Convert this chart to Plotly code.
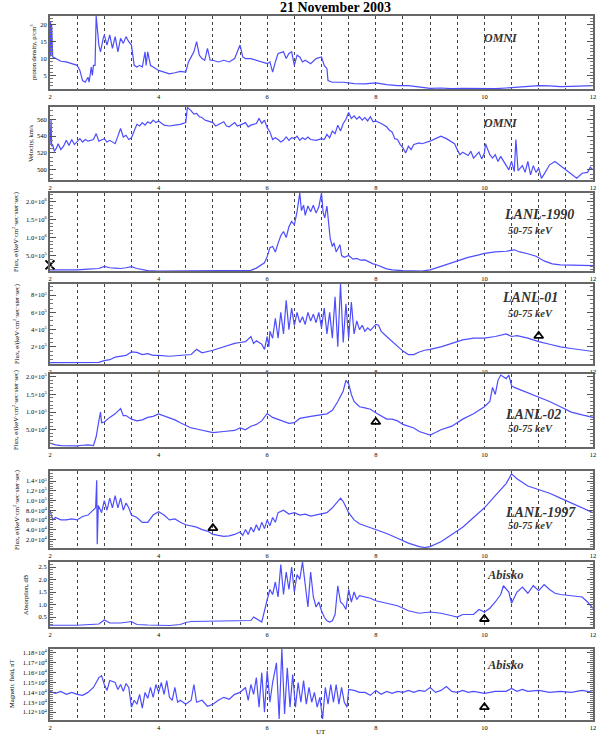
import plotly.graph_objects as go

# ---------------- data ----------------
# Panel 1: OMNI proton density, p/cm^3
t_dens = [2.0, 2.01, 2.02, 2.03, 2.05, 2.1, 2.15, 2.2, 2.3, 2.4, 2.5, 2.55, 2.6, 2.65, 2.7, 2.72, 2.76, 2.78,
          2.8, 2.83, 2.85, 2.9, 2.93, 2.98, 3.0, 3.05, 3.1, 3.15, 3.2, 3.25, 3.3, 3.35, 3.4, 3.45, 3.5, 3.55,
          3.6, 3.65, 3.7, 3.75, 3.77, 3.8, 3.85, 3.9, 4.0, 4.1, 4.2, 4.3, 4.4, 4.5, 4.55, 4.6, 4.65, 4.7,
          4.75, 4.8, 4.85, 4.9, 4.95, 5.0, 5.1, 5.2, 5.3, 5.4, 5.5, 5.55, 5.6, 5.7, 5.8, 5.9, 6.0, 6.05,
          6.1, 6.15, 6.2, 6.3, 6.35, 6.4, 6.45, 6.5, 6.55, 6.6, 6.65, 6.7, 6.8, 6.9, 7.0, 7.05, 7.1, 7.12,
          7.2, 7.4, 7.6, 7.8, 8.0, 8.2, 8.4, 8.6, 8.8, 9.0, 9.2, 9.4, 9.6, 9.8, 10.0, 10.2, 10.4, 10.6,
          10.8, 11.0, 11.2, 11.4, 11.6, 11.8, 12.0]
dens = [10.5, 21.0, 11.0, 20.0, 10.5, 10.0, 9.5, 9.2, 9.0, 8.6, 8.0, 6.5, 3.5, 3.0, 4.5, 3.0, 7.5, 5.0,
        8.0, 8.0, 22.6, 14.0, 12.0, 16.0, 17.0, 14.0, 17.0, 13.0, 16.5, 12.0, 16.0, 14.5, 16.5, 15.0, 14.0, 8.0,
        7.5, 8.0, 7.5, 12.0, 8.0, 12.0, 8.0, 7.5, 6.5, 6.0, 5.5, 5.8, 6.2, 6.0, 9.0, 10.5, 12.0, 15.0,
        11.0, 10.0, 9.5, 13.0, 9.5, 9.5, 9.0, 9.5, 9.0, 10.0, 14.0, 10.5, 10.0, 10.0, 9.5, 9.0, 8.5, 9.0,
        6.0, 9.0, 11.5, 12.0, 10.0, 11.5, 12.0, 8.0, 11.0, 10.5, 9.0, 9.5, 8.5, 10.0, 10.5, 8.0, 7.0, 3.5,
        3.0, 3.0, 2.6, 2.5, 2.8, 2.3, 2.0, 2.0, 1.5, 1.2, 1.3, 1.1, 1.2, 1.1, 1.2, 1.1, 1.3, 1.5,
        1.8, 2.0, 1.9, 1.7, 1.8, 1.9, 2.0]

# Panel 2: OMNI velocity, km/s
t_vel = [2.0, 2.01, 2.02, 2.03, 2.05, 2.08, 2.12, 2.15, 2.2, 2.25, 2.3, 2.35, 2.4, 2.45, 2.5, 2.55, 2.6,
         2.65, 2.7, 2.8, 2.85, 2.9, 3.0, 3.05, 3.1, 3.2, 3.25, 3.3, 3.35, 3.4, 3.45, 3.5, 3.55, 3.6, 3.65,
         3.7, 3.75, 3.8, 3.85, 3.9, 3.95, 4.0, 4.1, 4.2, 4.3, 4.4, 4.5, 4.53, 4.6, 4.65, 4.7, 4.75, 4.8,
         4.85, 4.9, 5.0, 5.05, 5.1, 5.2, 5.25, 5.3, 5.4, 5.45, 5.5, 5.6, 5.65, 5.7, 5.8, 5.85, 5.9, 5.95,
         6.0, 6.05, 6.1, 6.15, 6.2, 6.25, 6.3, 6.35, 6.4, 6.45, 6.5, 6.55, 6.6, 6.65, 6.7, 6.75, 6.8, 6.9,
         7.0, 7.05, 7.1, 7.15, 7.2, 7.25, 7.3, 7.35, 7.4, 7.45, 7.5, 7.55, 7.6, 7.65, 7.7, 7.75, 7.8, 7.85,
         7.9, 7.95, 8.0, 8.1, 8.2, 8.25, 8.3, 8.35, 8.4, 8.45, 8.5, 8.55, 8.6, 8.65, 8.7, 8.8, 8.85, 9.0,
         9.1, 9.2, 9.3, 9.45, 9.5, 9.55, 9.6, 9.7, 9.75, 9.8, 9.9, 9.95, 10.0, 10.02, 10.1, 10.15, 10.2,
         10.25, 10.3, 10.4, 10.45, 10.5, 10.55, 10.58, 10.62, 10.7, 10.75, 10.8, 10.85, 10.9, 10.95, 11.0,
         11.05, 11.1, 11.2, 11.3, 11.4, 11.5, 11.6, 11.7, 11.8, 11.9, 11.95, 12.0]
vel = [530, 545, 560, 528, 530, 522, 526, 531, 524, 528, 535, 529, 536, 530, 533, 537, 533,
       536, 534, 536, 543, 534, 537, 533, 535, 531, 540, 549, 539, 541, 536, 538, 546, 554, 552,
       556, 553, 557, 555, 559, 556, 558, 553, 552, 553, 554, 556, 574, 570, 566, 567, 563, 562,
       559, 558, 556, 552, 554, 557, 552, 551, 556, 552, 553, 556, 551, 553, 555, 561, 555, 559,
       550, 545, 536, 538, 536, 533, 535, 539, 535, 538, 537, 540, 535, 538, 536, 539, 536, 535,
       537, 536, 542, 538, 546, 543, 553, 546, 555, 560, 568, 561, 564, 560, 563, 559, 562, 558,
       563, 557, 558, 555, 551, 547, 545, 537, 536, 530, 526, 520, 528, 524, 530, 532, 531, 534,
       537, 540, 537, 531, 524, 518, 521, 517, 522, 514, 521, 513, 520, 531, 518, 514, 518,
       510, 516, 505, 500, 510, 498, 536, 499, 505, 497, 510, 494, 505, 497, 502,
       490, 495, 506, 510, 505, 500, 494, 490, 496, 497, 503, 500]

# Panel 3: LANL-1990 flux, units of 1e6
t_l90 = [2.0, 2.1, 2.3, 2.5, 2.7, 2.9, 3.0, 3.1, 3.2, 3.3, 3.4, 3.5, 3.6, 3.7, 3.8, 4.0, 4.5, 5.0, 5.5,
         5.7, 5.8, 5.9, 5.95, 6.0, 6.05, 6.1, 6.15, 6.2, 6.25, 6.3, 6.35, 6.4, 6.45, 6.5, 6.55, 6.6, 6.63,
         6.67, 6.7, 6.75, 6.8, 6.85, 6.9, 6.95, 7.0, 7.03, 7.06, 7.1, 7.13, 7.16, 7.2, 7.23, 7.27, 7.3,
         7.34, 7.37, 7.42, 7.5, 7.58, 7.65, 7.72, 7.8, 7.86, 7.95, 8.0, 8.1, 8.2, 8.3, 8.5, 8.85, 9.0,
         9.2, 9.4, 9.5, 9.7, 9.9, 10.0, 10.2, 10.4, 10.55, 10.65, 10.8, 10.95, 11.1, 11.25, 11.4, 11.6,
         11.8, 12.0]
l90 = [0.10, 0.10, 0.09, 0.10, 0.12, 0.14, 0.20, 0.16, 0.15, 0.14, 0.16, 0.19, 0.14, 0.10, 0.08, 0.07,
       0.07, 0.08, 0.07, 0.09, 0.15, 0.24, 0.30, 0.47, 0.72, 0.75, 0.60, 0.84, 1.05, 1.17, 1.00, 1.30,
       1.45, 1.35, 1.72, 2.24, 1.75, 1.90, 1.62, 1.88, 1.72, 1.90, 1.68, 1.85, 2.24, 1.70, 1.55, 1.88,
       1.40, 0.98, 0.75, 0.85, 0.60, 0.70, 0.80, 0.50, 0.45, 0.50, 0.40, 0.42, 0.37, 0.38, 0.33, 0.27,
       0.25, 0.18, 0.13, 0.10, 0.08, 0.07, 0.10, 0.20, 0.30, 0.35, 0.45, 0.52, 0.56, 0.60, 0.62, 0.66,
       0.60, 0.55, 0.48, 0.35, 0.27, 0.24, 0.23, 0.22, 0.22]

# Panel 4: LANL-01 flux, units of 1e5
t_l01 = [2.0, 2.5, 2.9, 3.0, 3.1, 3.2, 3.3, 3.4, 3.5, 3.6, 3.7, 3.8, 3.9, 4.0, 4.2, 4.4, 4.6, 4.7, 4.8,
         5.0, 5.2, 5.4, 5.5, 5.6, 5.7, 5.75, 5.8, 5.9, 5.95, 6.0, 6.03, 6.05, 6.1, 6.15, 6.2, 6.25, 6.3,
         6.35, 6.4, 6.45, 6.5, 6.55, 6.6, 6.65, 6.7, 6.75, 6.8, 6.85, 6.9, 6.95, 7.0, 7.05, 7.1, 7.15,
         7.2, 7.25, 7.3, 7.35, 7.4, 7.45, 7.5, 7.55, 7.6, 7.65, 7.7, 7.75, 7.8, 7.85, 7.9, 8.0, 8.05,
         8.1, 8.2, 8.3, 8.4, 8.5, 8.6, 8.7, 8.8, 8.9, 9.0, 9.2, 9.4, 9.6, 9.8, 10.0, 10.2, 10.4, 10.5,
         10.6, 10.8, 11.0, 11.2, 11.4, 11.6, 11.8, 12.0]
l01 = [0.15, 0.15, 0.2, 0.4, 0.5, 0.8, 0.9, 1.0, 1.4, 1.35, 1.1, 1.2, 1.0, 1.0, 0.9, 1.0, 1.1, 1.7, 1.3,
       1.6, 2.0, 2.4, 2.5, 2.6, 3.2, 2.4, 2.7, 2.3, 1.7, 3.2, 2.0, 3.8, 3.0, 5.3, 3.0, 6.0, 3.5,
       7.4, 4.0, 6.5, 4.5, 6.0, 4.8, 5.5, 4.6, 6.0, 5.0, 5.8, 4.8, 6.0, 4.2, 6.5, 3.5, 6.0,
       3.0, 7.8, 2.0, 9.3, 2.5, 7.0, 3.0, 7.2, 3.5, 5.0, 4.0, 4.5, 3.8, 4.2, 3.9, 4.6, 4.5,
       3.8, 3.2, 2.6, 2.1, 1.5, 1.1, 1.1, 1.4, 1.6, 1.7, 2.0, 2.4, 2.8, 3.0, 3.0, 3.2, 3.5, 3.2,
       3.3, 3.0, 2.6, 2.3, 2.0, 1.8, 1.6, 1.45]

# Panel 5: LANL-02 flux, units of 1e5
t_l02 = [2.0, 2.1, 2.2, 2.5, 2.6, 2.7, 2.8, 2.85, 2.9, 2.93, 2.95, 3.0, 3.1, 3.2, 3.3, 3.35, 3.4, 3.5, 3.6,
         3.7, 3.8, 3.9, 4.0, 4.1, 4.2, 4.3, 4.4, 4.5, 4.6, 4.7, 4.8, 4.9, 5.0, 5.2, 5.4, 5.5, 5.6, 5.7,
         5.8, 5.9, 6.0, 6.1, 6.2, 6.3, 6.4, 6.5, 6.6, 6.8, 7.0, 7.1, 7.2, 7.3, 7.4, 7.45, 7.5, 7.55,
         7.6, 7.7, 7.8, 7.9, 8.0, 8.1, 8.2, 8.3, 8.4, 8.5, 8.6, 8.7, 8.8, 8.9, 9.0, 9.1, 9.2, 9.4, 9.6,
         9.8, 10.0, 10.1, 10.15, 10.2, 10.25, 10.3, 10.35, 10.4, 10.45, 10.5, 10.55, 10.6, 10.8, 11.0,
         11.2, 11.4, 11.6, 11.8, 12.0]
l02 = [0.12, 0.07, 0.05, 0.04, 0.06, 0.07, 0.05, 0.3, 0.75, 1.0, 0.7, 0.72, 0.85, 0.95, 1.1, 0.9, 0.9,
       0.8, 0.75, 0.78, 0.85, 0.88, 0.95, 0.9, 0.85, 0.78, 0.7, 0.62, 0.55, 0.52, 0.48, 0.44, 0.42, 0.45,
       0.48, 0.55, 0.5, 0.6, 0.65, 0.75, 0.96, 0.85, 0.8, 0.75, 0.68, 0.7, 0.82, 0.88, 0.92, 0.95,
       1.05, 1.3, 1.6, 1.9, 1.8, 1.5, 1.3, 1.15, 1.12, 1.08, 0.98, 0.88, 0.8, 0.8, 0.75, 0.65, 0.6,
       0.55, 0.45, 0.4, 0.35, 0.42, 0.5, 0.6, 0.8, 0.95, 1.15, 1.3, 1.7, 1.5, 1.9, 2.05, 2.0, 1.95,
       2.05, 1.75, 1.7, 1.67, 1.55, 1.42, 1.3, 1.15, 1.0, 0.92, 0.85]

# Panel 6: LANL-1997 flux, units of 1e5
t_l97 = [2.0, 2.05, 2.1, 2.2, 2.3, 2.4, 2.5, 2.6, 2.7, 2.8, 2.84, 2.86, 2.87, 2.89, 2.95, 3.0, 3.05, 3.1,
         3.15, 3.2, 3.25, 3.3, 3.35, 3.4, 3.45, 3.5, 3.6, 3.7, 3.8, 3.9, 4.0, 4.1, 4.2, 4.3, 4.4, 4.5,
         4.6, 4.7, 4.8, 4.9, 5.0, 5.1, 5.2, 5.3, 5.4, 5.5, 5.55, 5.6, 5.65, 5.7, 5.75, 5.8, 5.85, 5.9,
         5.95, 6.0, 6.05, 6.1, 6.15, 6.2, 6.3, 6.4, 6.5, 6.6, 6.7, 6.8, 6.9, 7.0, 7.1, 7.2, 7.3, 7.35,
         7.4, 7.5, 7.6, 7.7, 7.8, 8.0, 8.2, 8.4, 8.6, 8.8, 8.9, 9.0, 9.2, 9.4, 9.6, 9.8, 10.0, 10.2,
         10.4, 10.5, 10.6, 10.8, 11.0, 11.2, 11.4, 11.6, 11.8, 12.0]
l97 = [0.8, 0.6, 0.65, 0.6, 0.6, 0.62, 0.6, 0.67, 0.7, 0.8, 0.85, 1.42, 0.1, 0.9, 0.75, 1.0, 0.8, 1.05,
       0.85, 1.1, 0.85, 1.05, 0.8, 0.95, 0.85, 0.7, 0.65, 0.55, 0.55, 0.7, 0.77, 0.7, 0.6, 0.62, 0.55,
       0.5, 0.48, 0.45, 0.4, 0.37, 0.3, 0.28, 0.26, 0.27, 0.3, 0.35, 0.28, 0.4, 0.3, 0.45, 0.35, 0.5,
       0.38, 0.55, 0.42, 0.6, 0.48, 0.65, 0.55, 0.75, 0.8, 0.72, 0.75, 0.7, 0.72, 0.68, 0.7, 0.72,
       0.75, 0.85, 1.0, 1.05, 0.98, 0.75, 0.6, 0.52, 0.48, 0.4, 0.32, 0.22, 0.12, 0.05, 0.03, 0.05,
       0.15, 0.3, 0.45, 0.65, 0.85, 1.1, 1.35, 1.55, 1.45, 1.3, 1.22, 1.15, 1.05, 0.95, 0.85, 0.75]

# Panel 7: Abisko riometer absorption, dB
t_abs = [2.0, 2.5, 2.9, 3.0, 3.1, 3.3, 3.5, 3.6, 3.8, 4.0, 4.2, 4.4, 4.5, 4.6, 5.0, 5.5, 5.7, 5.75, 5.9,
         6.0, 6.05, 6.1, 6.15, 6.2, 6.25, 6.3, 6.35, 6.4, 6.45, 6.5, 6.55, 6.6, 6.65, 6.7, 6.75, 6.8,
         6.85, 6.9, 6.95, 7.0, 7.05, 7.1, 7.15, 7.2, 7.25, 7.3, 7.35, 7.4, 7.45, 7.5, 7.55, 7.6, 7.65,
         7.7, 7.8, 7.9, 8.0, 8.2, 8.4, 8.6, 8.8, 9.0, 9.2, 9.4, 9.5, 9.6, 9.8, 9.9, 10.0, 10.1, 10.2,
         10.3, 10.35, 10.45, 10.5, 10.6, 10.7, 10.8, 10.9, 11.0, 11.1, 11.2, 11.3, 11.4, 11.6, 11.8,
         11.9, 12.0]
absorb = [0.17, 0.17, 0.22, 0.38, 0.26, 0.26, 0.32, 0.2, 0.18, 0.16, 0.16, 0.2, 0.28, 0.32, 0.34, 0.36,
          0.36, 0.5, 0.3, 1.2, 1.6, 1.4, 1.9, 1.3, 2.6, 1.4, 2.3, 1.6, 2.5, 1.5, 2.2, 2.0, 2.7, 1.8,
          0.9, 2.3, 1.3, 0.9, 1.1, 0.75, 0.5, 0.35, 0.3, 0.35, 0.6, 1.75, 1.1, 1.0, 0.8, 1.6, 1.1,
          1.5, 1.2, 1.35, 1.3, 1.25, 1.15, 1.05, 0.95, 0.75, 0.65, 0.7, 0.65, 0.55, 0.5, 0.6, 0.6,
          0.8, 0.7, 0.85, 1.1, 1.4, 1.75, 1.5, 1.05, 1.5, 1.7, 1.45, 1.75, 1.55, 1.8, 1.6, 1.45,
          1.4, 1.35, 1.3, 1.1, 0.85]

# Panel 8: Abisko magnetic field, units of 1e4 nT
t_mag = [2.0, 2.1, 2.2, 2.3, 2.4, 2.5, 2.6, 2.7, 2.8, 2.9, 2.95, 3.0, 3.05, 3.1, 3.2, 3.25, 3.3, 3.35, 3.4,
         3.45, 3.5, 3.55, 3.6, 3.65, 3.7, 3.75, 3.8, 3.85, 3.9, 3.95, 4.0, 4.05, 4.1, 4.15, 4.2, 4.25,
         4.3, 4.35, 4.4, 4.5, 4.6, 4.65, 4.7, 4.8, 4.9, 5.0, 5.1, 5.2, 5.3, 5.4, 5.5, 5.6, 5.65, 5.7,
         5.75, 5.8, 5.85, 5.9, 5.95, 6.0, 6.05, 6.1, 6.17, 6.22, 6.27, 6.32, 6.37, 6.42, 6.47, 6.52,
         6.57, 6.62, 6.67, 6.72, 6.77, 6.82, 6.87, 6.92, 6.97, 7.02, 7.07, 7.12, 7.17, 7.22, 7.27, 7.32,
         7.37, 7.42, 7.47, 7.5, 7.6, 7.7, 7.8, 7.9, 8.0, 8.1, 8.2, 8.3, 8.4, 8.5, 8.6, 8.7, 8.8, 8.9,
         9.0, 9.1, 9.2, 9.3, 9.4, 9.5, 9.6, 9.7, 9.8, 9.9, 10.0, 10.2, 10.4, 10.5, 10.6, 10.7, 10.8,
         11.0, 11.2, 11.4, 11.6, 11.8, 12.0]
mag = [1.141, 1.139, 1.141, 1.138, 1.140, 1.138, 1.137, 1.140, 1.145, 1.155, 1.157, 1.148, 1.142, 1.152,
       1.150, 1.143, 1.148, 1.141, 1.149, 1.145, 1.125, 1.132, 1.128, 1.138, 1.124, 1.140, 1.134, 1.145,
       1.135, 1.148, 1.140, 1.150, 1.138, 1.152, 1.135, 1.132, 1.145, 1.130, 1.132, 1.128, 1.132, 1.148,
       1.130, 1.132, 1.126, 1.128, 1.132, 1.135, 1.133, 1.138, 1.140, 1.145, 1.132, 1.148, 1.138, 1.155,
       1.125, 1.160, 1.120, 1.162, 1.130, 1.150, 1.170, 1.113, 1.184, 1.118, 1.165, 1.125, 1.158, 1.125,
       1.150, 1.130, 1.152, 1.128, 1.145, 1.130, 1.140, 1.125, 1.135, 1.113, 1.145, 1.128, 1.148, 1.130,
       1.148, 1.128, 1.145, 1.130, 1.125, 1.143, 1.142, 1.140, 1.140, 1.137, 1.142, 1.138, 1.141, 1.139,
       1.141, 1.140, 1.142, 1.140, 1.142, 1.141, 1.145, 1.140, 1.142, 1.146, 1.141, 1.140, 1.142, 1.140,
       1.141, 1.140, 1.139, 1.141, 1.141, 1.144, 1.141, 1.143, 1.141, 1.142, 1.140, 1.141, 1.140, 1.142,
       1.140]

# Event markers (triangles) per panel: panel index, UT hour, level in panel units
tri_panel = [4, 5, 6, 7, 8]
tri_time = [11.0, 8.0, 5.0, 10.0, 10.0]
tri_level = [3.26, 0.72, 0.43, 0.42, 1.125]
cross_time = [2.0]
cross_level = [0.24]

# Tick labels
x_ticks = [2, 4, 6, 8, 10, 12]
yt1 = [5, 10, 15, 20]
yt2 = [500, 520, 540, 560]
yt3 = [0.5, 1.0, 1.5, 2.0]
yt3_text = ["5.0×10<sup>5</sup>", "1.0×10<sup>6</sup>", "1.5×10<sup>6</sup>", "2.0×10<sup>6</sup>"]
yt4 = [2, 4, 6, 8]
yt4_text = ["2×10<sup>5</sup>", "4×10<sup>5</sup>", "6×10<sup>5</sup>", "8×10<sup>5</sup>"]
yt5 = [0.5, 1.0, 1.5, 2.0]
yt5_text = ["5.0×10<sup>4</sup>", "1.0×10<sup>5</sup>", "1.5×10<sup>5</sup>", "2.0×10<sup>5</sup>"]
yt6 = [0.2, 0.4, 0.6, 0.8, 1.0, 1.2, 1.4]
yt6_text = ["2.0×10<sup>4</sup>", "4.0×10<sup>4</sup>", "6.0×10<sup>4</sup>", "8.0×10<sup>4</sup>",
            "1.0×10<sup>5</sup>", "1.2×10<sup>5</sup>", "1.4×10<sup>5</sup>"]
yt7 = [0.5, 1.0, 1.5, 2.0, 2.5]
yt8 = [1.12, 1.13, 1.14, 1.15, 1.16, 1.17, 1.18]
yt8_text = [f"{v:.2f}×10<sup>4</sup>" for v in yt8]

# ---------------- layout geometry ----------------
W, H = 601, 736
L, R, T, B = 50, 8, 16, 16
PW, PH = W - L - R, H - T - B


def xp(px):
    return (px - L) / PW


def yp(py):
    return (H - B - py) / PH


# (top px, bottom px) of each panel
boxes = [(16, 89), (107, 180), (193, 271), (284, 364), (374, 447), (471, 548), (562, 627), (649, 720)]

series = [(t_dens, dens), (t_vel, vel), (t_l90, l90), (t_l01, l01), (t_l02, l02), (t_l97, l97),
          (t_abs, absorb), (t_mag, mag)]
yranges = [[1.0, 22.6], [488, 574.5], [0.07, 2.24], [0.0, 9.3], [0.01, 2.08], [0.02, 1.61],
           [0.1, 2.7], [1.112, 1.184]]
yticks = [(yt1, [str(v) for v in yt1]), (yt2, [str(v) for v in yt2]), (yt3, yt3_text), (yt4, yt4_text),
          (yt5, yt5_text), (yt6, yt6_text), (yt7, [f"{v:.1f}" for v in yt7]), (yt8, yt8_text)]
minor_dt = [1, 5, 0.1, 0.5, 0.1, 0.05, 0.1, 0.002]

LINE = "#4d4dff"
FRAME = "#666666"
GRID = "#444444"
SERIF = "Liberation Serif"

fig = go.Figure()
layout = dict(
    width=W, height=H, showlegend=False,
    paper_bgcolor="white", plot_bgcolor="white",
    margin=dict(l=L, r=R, t=T, b=B, autoexpand=False),
    font=dict(family=SERIF, color="black", size=7),
)

for i, ((top, bot), (tx, vy), yr, (tv, tt), mdt) in enumerate(
        zip(boxes, series, yranges, yticks, minor_dt), start=1):
    xa = "x" if i == 1 else f"x{i}"
    ya = "y" if i == 1 else f"y{i}"
    fig.add_trace(go.Scatter(x=tx, y=vy, mode="lines", xaxis=xa, yaxis=ya,
                             line=dict(color=LINE, width=1.2)))
    layout[f"xaxis{'' if i == 1 else i}"] = dict(
        domain=[0, 1], anchor=ya, range=[2, 12], tickmode="array", tickvals=x_ticks,
        ticktext=[str(v) for v in x_ticks], ticks="", tickfont=dict(size=6.5, family=SERIF),
        ticklabeloverflow="allow",
        showgrid=True, gridcolor=GRID, gridwidth=1, griddash="dot",
        minor=dict(tickmode="linear", tick0=2, dtick=0.5, showgrid=True, gridcolor=GRID,
                   gridwidth=1, griddash="dot"),
        showline=True, linecolor=FRAME, linewidth=2, mirror=True, zeroline=False,
    )
    layout[f"yaxis{'' if i == 1 else i}"] = dict(
        domain=[yp(bot), yp(top)], anchor=xa, range=yr, tickmode="array", tickvals=tv, ticktext=tt,
        ticks="inside", ticklen=6, tickwidth=1, tickcolor="#555555",
        tickfont=dict(size=6.5, family=SERIF), ticklabeloverflow="allow",
        minor=dict(tickmode="linear", tick0=0, dtick=mdt, ticks="inside", ticklen=3,
                   tickwidth=1, tickcolor="#777777", showgrid=False),
        showline=True, linecolor=FRAME, linewidth=2, mirror="ticks", zeroline=False, showgrid=False,
    )

# event markers
for p, t, lv in zip(tri_panel, tri_time, tri_level):
    fig.add_trace(go.Scatter(x=[t], y=[lv], mode="markers", xaxis=f"x{p}", yaxis=f"y{p}",
                             cliponaxis=False,
                             marker=dict(symbol="triangle-up-open", size=8, color="black",
                                         line=dict(width=1.8, color="black"))))
fig.add_trace(go.Scatter(x=cross_time, y=cross_level, mode="markers", xaxis="x3", yaxis="y3",
                         cliponaxis=False,
                         marker=dict(symbol="x-thin-open", size=9, color="black",
                                     line=dict(width=2, color="black"))))


def text_ann(txt, x, y, size, angle=0, color="black"):
    return dict(text=txt, x=xp(x), y=yp(y), xref="paper", yref="paper", showarrow=False,
                xanchor="center", yanchor="middle", textangle=angle,
                font=dict(size=size, family=SERIF, color=color))


ann = []
# title
ann.append(text_ann("<b>21 November 2003</b>", 335, 8, 14))
# in-panel labels
lab = [("<b><i>OMNI</i></b>", 501, 38, 12), ("<b><i>OMNI</i></b>", 501, 123, 12),
       ("<b><i>LANL-1990</i></b>", 539, 214, 14), ("<b><i>50-75 keV</i></b>", 530, 230, 10.5),
       ("<b><i>LANL-01</i></b>", 530, 298, 14), ("<b><i>50-75 keV</i></b>", 530, 313, 10.5),
       ("<b><i>LANL-02</i></b>", 533, 414, 14), ("<b><i>50-75 keV</i></b>", 530, 428, 10.5),
       ("<b><i>LANL-1997</i></b>", 540, 512, 14), ("<b><i>50-75 keV</i></b>", 530, 525, 10.5),
       ("<b><i>Abisko</i></b>", 505, 575, 12.5), ("<b><i>Abisko</i></b>", 505, 665, 12.5)]
for txt, x, y, s in lab:
    ann.append(text_ann(txt, x, y, s, color="#333333"))
# y-axis titles
flux = "Flux, e/(keV·cm<sup>2</sup>·sec·ster·sec)"
ytitles = [("proton density, p/cm<sup>3</sup>", 33, 52), ("Velocity, km/s", 30, 143),
           (flux, 16, 232), (flux, 16, 324), (flux, 16, 410), (flux, 16, 510),
           ("Absorption, dB", 25, 595), ("Magnetic field, nT", 11, 684)]
for txt, x, y in ytitles:
    ann.append(text_ann(txt, x, y, 6.5, angle=-90))
# x-axis title
ann.append(text_ann("UT", 321, 732, 7))
layout["annotations"] = ann
fig.update_layout(**layout)
# remove the browser's default 8px body margin so the figure sits at the page origin
fig.write_html("out.html", config={"displayModeBar": False},
               post_script="document.body.style.margin='0';")
